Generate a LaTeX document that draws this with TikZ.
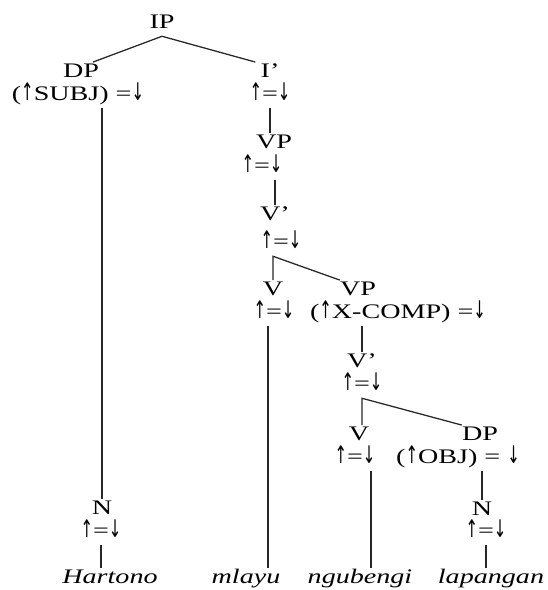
\documentclass[tikz,border=0pt]{standalone}
\usepackage{graphicx}
\usepackage{fontspec}
\setmainfont{Liberation Serif}[FakeStretch=1.36]
\newfontfamily\arrfont{DejaVu Sans}
\newcommand\upa{\scalebox{0.8}[1.3]{\arrfont\fontsize{14}{16}\selectfont ↑}}
\newcommand\dna{\scalebox{0.8}[1.3]{\arrfont\fontsize{14}{16}\selectfont ↓}}
\begin{document}
\begin{tikzpicture}[x=0.75pt,y=-0.75pt,
  tx/.style={anchor=base,inner xsep=0pt,inner ysep=4pt,text height=0.7em,text depth=0.2em,font=\fontsize{15.5}{18}\selectfont},
  wd/.style={tx,font=\fontsize{15.5}{18}\selectfont\itshape},
  br/.style={line width=0.95pt,draw=black!85}]
\useasboundingbox (0,0) rectangle (548,590);
% categories and annotations
\node[tx] (ip)   at (162,28)  {IP};
\node[tx] (dp)   at (81,77)   {DP};
\node[tx] (dpa)  at (78,100)  {(\upa SUBJ) =\dna};
\node[tx] (ib)   at (270,77)  {I’};
\node[tx] (iba)  at (270,100) {\upa=\dna};
\node[tx] (vp1)  at (274,148) {VP};
\node[tx] (vp1a) at (262,172) {\upa=\dna};
\node[tx] (vb1)  at (275,220) {V’};
\node[tx] (vb1a) at (281,248) {\upa=\dna};
\node[tx] (v1)   at (273,295) {V};
\node[tx] (v1a)  at (274,318) {\upa=\dna};
\node[tx] (vp2)  at (358,295) {VP};
\node[tx] (vp2a) at (398,318) {(\upa X-COMP) =\dna};
\node[tx] (vb2)  at (362,367) {V’};
\node[tx] (vb2a) at (362,390) {\upa=\dna};
\node[tx] (v2)   at (359,440) {V};
\node[tx] (v2a)  at (355,463) {\upa=\dna};
\node[tx] (dp2)  at (480,440) {DP};
\node[tx] (dp2a) at (458,463) {(\upa OBJ) = \dna};
\node[tx] (n2)   at (482,515) {N};
\node[tx] (n2a)  at (486,537) {\upa=\dna};
\node[tx] (n1)   at (102,514) {N};
\node[tx] (n1a)  at (101,537) {\upa=\dna};
% words
\node[wd] (w1) at (110,583) {Hartono};
\node[wd] (w2) at (246,583) {mlayu};
\node[wd] (w3) at (360,583) {ngubengi};
\node[wd] (w4) at (491,583) {lapangan};
% helper coordinates
\coordinate (c1) at (v1.north |- vb1a.south);
\coordinate (c2) at (vb2a.south);
\coordinate (v1b) at ([xshift=-4.5pt]v1a.south);
\coordinate (v2b) at ([xshift=12pt]v2a.south);
% branches
\draw[br] ([xshift=9pt]dp.north) -- (ip.south) -- ([xshift=-11pt]ib.north);
\draw[br] (dpa.south -| n1.north) -- (n1.north);
\draw[br] (n1a.south) -- (n1a.south |- w1.north);
\draw[br] (iba.south) -- (iba.south |- vp1.north);
\draw[br] (vb1.north |- vp1a.south) -- (vb1.north);
\draw[br] (v1.north) -- (c1) -- (vp2.north west);
\draw[br] (v1b) -- (v1b |- w2.north);
\draw[br] (vb2.north |- vp2a.south) -- (vb2.north);
\draw[br] (c2 |- v2.north) -- (c2) -- (dp2.north west);
\draw[br] (v2b) -- (v2b |- w3.north);
\draw[br] (n2.north |- dp2a.south) -- (n2.north);
\draw[br] (n2a.south) -- (n2a.south |- w4.north);
\end{tikzpicture}
\end{document}
